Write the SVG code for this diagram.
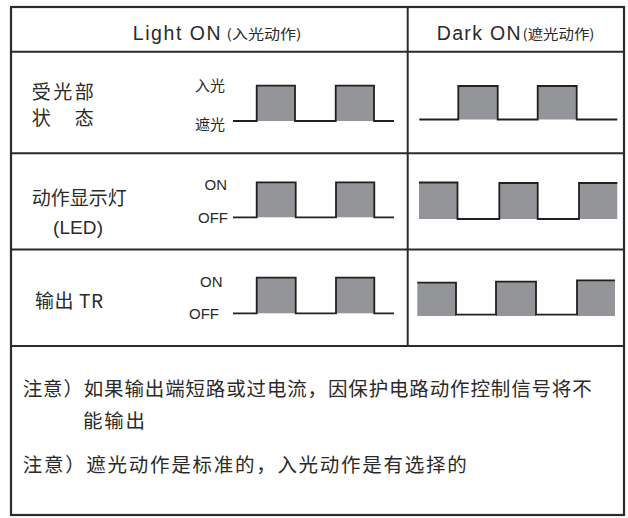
<svg xmlns="http://www.w3.org/2000/svg" width="628" height="518" viewBox="0 0 628 518">
<style>
.frame{fill:none;stroke:#2b2b2b;stroke-width:2.2}
.rule{stroke:#2b2b2b;stroke-width:2}
.wave{fill:none;stroke:#231f20;stroke-width:1.8;stroke-linejoin:miter}
.blk{fill:#939598}
.t{font-family:"Noto Sans CJK SC","Liberation Sans",sans-serif;fill:#2a2a2a}
.lat{font-family:"Liberation Sans","Noto Sans CJK SC",sans-serif;fill:#2a2a2a}
</style>
<rect width="628" height="518" fill="#ffffff"/>
<g id="table">
<rect class="frame" x="11" y="7" width="613" height="508"/>
<line class="rule" x1="11" y1="51.7" x2="624" y2="51.7"/>
<line class="rule" x1="11" y1="153.3" x2="624" y2="153.3"/>
<line class="rule" x1="11" y1="249.5" x2="624" y2="249.5"/>
<line class="rule" x1="11" y1="346" x2="624" y2="346"/>
<line class="rule" x1="407.7" y1="7" x2="407.7" y2="346"/>
</g>
<g id="header-light">
<text class="lat" x="132.7" y="39.5" font-size="19.5" textLength="88" lengthAdjust="spacing">Light ON</text>
<text class="t" x="226.5" y="39" font-size="13.5" textLength="75" lengthAdjust="spacingAndGlyphs">(入光动作)</text>
</g>
<g id="header-dark">
<text class="lat" x="436.7" y="39.5" font-size="19.5" textLength="84" lengthAdjust="spacing">Dark ON</text>
<text class="t" x="522.5" y="39" font-size="13.5" textLength="72" lengthAdjust="spacingAndGlyphs">(遮光动作)</text>
</g>
<g id="row-receiver">
<text class="t" x="31.7" y="99" font-size="19" textLength="62" lengthAdjust="spacing">受光部</text>
<text class="t" x="31.7" y="125" font-size="19" textLength="62" lengthAdjust="spacing">状　态</text>
<text class="t" x="195" y="91" font-size="15" textLength="30" lengthAdjust="spacing">入光</text>
<text class="t" x="195" y="130" font-size="15" textLength="30" lengthAdjust="spacing">遮光</text>
<rect class="blk" x="256.7" y="85.7" width="38.3" height="35.3"/>
<rect class="blk" x="335.7" y="85.7" width="38.3" height="35.3"/>
<path class="wave" d="M233,121 H256.7 V85.7 H295 V121 H335.7 V85.7 H374 V121 H394"/>
<rect class="blk" x="458.3" y="86" width="39.4" height="33.5"/>
<rect class="blk" x="537.7" y="86" width="39" height="33.5"/>
<path class="wave" d="M419.3,119.5 H458.3 V86 H497.7 V119.5 H537.7 V86 H576.7 V119.5 H617.3"/>
</g>
<g id="row-led">
<text class="t" x="31.7" y="205" font-size="19" textLength="95" lengthAdjust="spacing">动作显示灯</text>
<text class="lat" x="53" y="233.5" font-size="19" textLength="50" lengthAdjust="spacing">(LED)</text>
<text class="lat" x="227" y="190" font-size="15" text-anchor="end">ON</text>
<text class="lat" x="228" y="223.3" font-size="15" text-anchor="end">OFF</text>
<rect class="blk" x="256.7" y="182.3" width="39" height="35"/>
<rect class="blk" x="336" y="182.3" width="38.3" height="35"/>
<path class="wave" d="M233,217.3 H256.7 V182.3 H295.7 V217.3 H336 V182.3 H374.3 V217.3 H394"/>
<rect class="blk" x="419" y="182.5" width="38.5" height="36.5"/>
<rect class="blk" x="499.3" y="183" width="38.4" height="36"/>
<rect class="blk" x="579" y="183" width="38.3" height="36"/>
<path class="wave" d="M419,182.5 H457.5 V219 H499.3 V183 H537.7 V219 H579 V183 H617.3"/>
</g>
<g id="row-output">
<text class="t" x="35" y="308" font-size="19" textLength="68" lengthAdjust="spacing">输出 TR</text>
<text class="lat" x="222.5" y="287.3" font-size="15" text-anchor="end">ON</text>
<text class="lat" x="219" y="319.3" font-size="15" text-anchor="end">OFF</text>
<rect class="blk" x="256.7" y="277.7" width="39" height="35.6"/>
<rect class="blk" x="336" y="277.7" width="38.3" height="35.6"/>
<path class="wave" d="M233,313.3 H256.7 V277.7 H295.7 V313.3 H336 V277.7 H374.3 V313.3 H394"/>
<rect class="blk" x="417.3" y="282.7" width="38.7" height="33.3"/>
<rect class="blk" x="496" y="281.7" width="40" height="34.3"/>
<rect class="blk" x="577" y="280.3" width="38" height="35.7"/>
<path class="wave" d="M417.3,282.7 H456 V314.7 H496 V281.7 H536 V314.7 H577 V280.3 H615"/>
</g>
<g id="notes">
<text class="t" x="22.7" y="396" font-size="19.5" textLength="569" lengthAdjust="spacing">注意）如果输出端短路或过电流，因保护电路动作控制信号将不</text>
<text class="t" x="83" y="427.5" font-size="19.5" textLength="62" lengthAdjust="spacing">能输出</text>
<text class="t" x="22.7" y="472" font-size="19.5" textLength="444" lengthAdjust="spacing">注意）遮光动作是标准的，入光动作是有选择的</text>
</g>
</svg>
